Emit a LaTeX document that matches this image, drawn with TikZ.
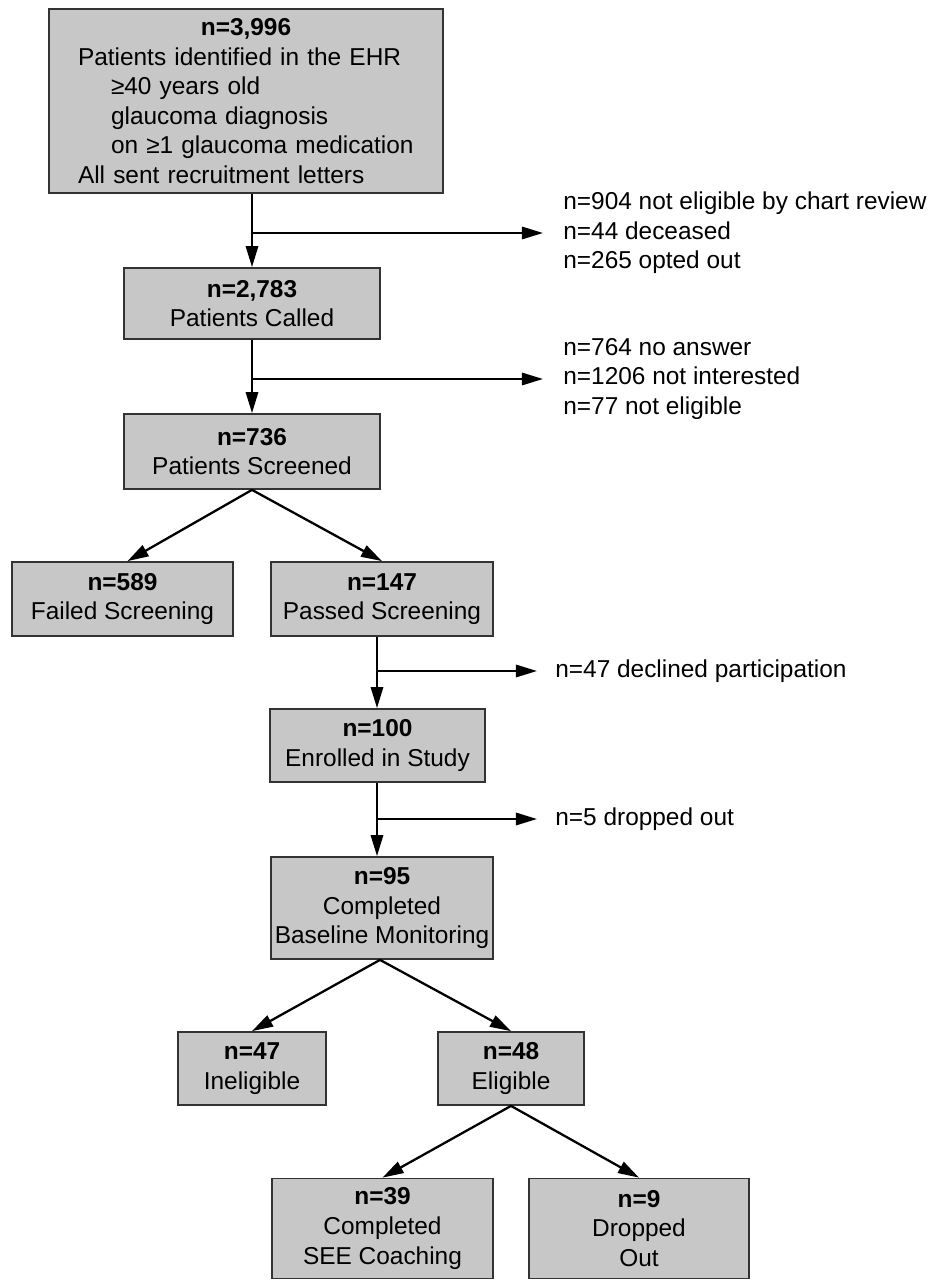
\documentclass[tikz,border=0pt]{standalone}
\usepackage{fontspec}
\setmainfont{Liberation Sans}
\usepackage{tikz}
\usetikzlibrary{arrows.meta}

\newlength\pxunit
\setlength\pxunit{0.02cm}

\tikzset{
  box/.style={draw=black!80, line width=1pt, fill=black!22, align=center, inner sep=0pt},
  note/.style={anchor=west, align=left, inner sep=0pt},
  arr/.style={-{Triangle[length=12pt,width=7pt]}, line width=1.3pt},
}

\begin{document}
\begin{tikzpicture}[x=0.02cm, y=-0.02cm, font=\fontsize{13.9}{16.8}\selectfont]
\useasboundingbox (0,0) rectangle (934,1280);

% boxes
\node[box, minimum width=394\pxunit, minimum height=184\pxunit, text width=336\pxunit, align=left] (ehr) at (246,101)
  {\makebox[\hsize]{\textbf{n=3,996}}\\Patients identified in the EHR\\\hspace*{33\pxunit}≥40 years old\\\hspace*{33\pxunit}glaucoma diagnosis\\\hspace*{33\pxunit}on ≥1 glaucoma medication\\All sent recruitment letters};
\node[box, minimum width=256\pxunit, minimum height=71\pxunit] (called) at (252,303.5) {\textbf{n=2,783}\\Patients Called};
\node[box, minimum width=256\pxunit, minimum height=75\pxunit] (screen) at (252,451.5) {\textbf{n=736}\\Patients Screened};
\node[box, minimum width=221\pxunit, minimum height=74\pxunit] (fail) at (122.5,599) {\textbf{n=589}\\Failed Screening};
\node[box, minimum width=222\pxunit, minimum height=74\pxunit] (pass) at (382,599) {\textbf{n=147}\\Passed Screening};
\node[box, minimum width=215\pxunit, minimum height=73\pxunit] (enrol) at (377.5,745.5) {\textbf{n=100}\\Enrolled in Study};
\node[box, minimum width=222\pxunit, minimum height=102\pxunit] (base) at (382,908) {\textbf{n=95}\\Completed\\Baseline Monitoring};
\node[box, minimum width=148\pxunit, minimum height=73\pxunit] (inel) at (252,1068.5) {\textbf{n=47}\\Ineligible};
\node[box, minimum width=146\pxunit, minimum height=73\pxunit] (elig) at (511,1068.5) {\textbf{n=48}\\Eligible};
\node[box, minimum width=221\pxunit, minimum height=100\pxunit] (coach) at (382.5,1228.5) {\textbf{n=39}\\Completed\\SEE Coaching};
\node[box, minimum width=220\pxunit, minimum height=100\pxunit] (drop) at (639,1228.5) {\textbf{n=9}\\Dropped\\Out};

% side notes
\node[note] (out1) at (563,233) {n=904 not eligible by chart review\\n=44 deceased\\n=265 opted out};
\node[note] (out2) at (563,379) {n=764 no answer\\n=1206 not interested\\n=77 not eligible};
\node[note] (out3) at (555,671) {n=47 declined participation};
\node[note] (out4) at (555,819) {n=5 dropped out};

% branch points
\coordinate (b1) at (252,233);
\coordinate (b2) at (252,379);
\coordinate (b3) at (377,671);
\coordinate (b4) at (377,819);

% arrows
\draw[arr] (called.north |- ehr.south) -- (called.north);
\draw[arr] (b1) -- ([xshift=-20\pxunit]out1.west); % excluded 1
\draw[arr] (called.south) -- (screen.north);
\draw[arr] (b2) -- ([xshift=-20\pxunit]out2.west); % excluded 2
\draw[arr] (screen.south) -- ([xshift=5\pxunit]fail.north);
\draw[arr] (screen.south) -- (pass.north);
\draw[arr] (b3 |- pass.south) -- (b3 |- enrol.north);
\draw[arr] (b3) -- ([xshift=-18\pxunit]out3.west); % declined
\draw[arr] (b4 |- enrol.south) -- (b4 |- base.north);
\draw[arr] (b4) -- ([xshift=-18\pxunit]out4.west); % dropped out
\draw[arr] ([xshift=-2\pxunit]base.south) -- (inel.north);
\draw[arr] ([xshift=-2\pxunit]base.south) -- (elig.north);
\draw[arr] (elig.south) -- (coach.north);
\draw[arr] (elig.south) -- (drop.north);

\end{tikzpicture}
\end{document}
